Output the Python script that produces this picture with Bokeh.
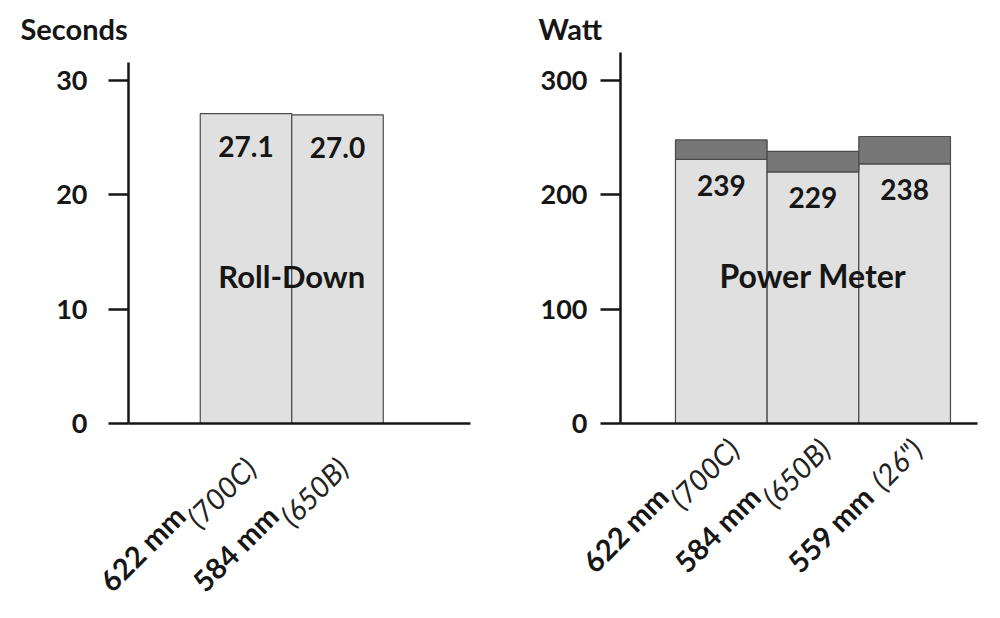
import math
from bokeh.plotting import figure
from bokeh.models import Label, FixedTicker, Range1d, LinearAxis
from bokeh.layouts import row
from bokeh.embed import file_html
from bokeh.resources import INLINE
from bokeh.core.properties import value

# ---------------- data ----------------
roll_sizes = ["622 mm", "584 mm"]
roll_names = ["(700C)", "(650B)"]
roll_seconds = [27.1, 27.0]
roll_labels = ["27.1", "27.0"]

power_sizes = ["622 mm", "584 mm", "559 mm"]
power_names = ["(700C)", "(650B)", '(26")']
power_low = [231, 220, 227]
power_high = [248, 238, 251]
power_labels = ["239", "229", "238"]

seconds_ticks = [0, 10, 20, 30]
watt_ticks = [0, 100, 200, 300]

# ---------------- style ----------------
FONT = "Lato"
INK = "#161616"
LIGHT = "#e0e0e0"
DARK = "#777777"
EDGE = "#4a4a4a"
PANEL_W = 500
FIG_H = 616
FRAME_TOP = 52
ZERO_PX = 423
XL_FS = 29           # category label font size
C45 = math.cos(math.pi / 4)

IT_W = {"(": 0.29, ")": 0.29, "C": 0.66, "B": 0.62, '"': 0.15}


def italic_width(s, size):
    return sum(IT_W.get(c, 0.57) for c in s) * size


def make_chart(origin, frame_left, frame_right, axis_top_px,
               bar1_px, kx, ky, ticks, standoff, title, title_px, title_standoff,
               sizes, names, lab_dx, lab_dy, bold_standoff):
    fw = frame_right - frame_left
    fh = ZERO_PX - FRAME_TOP
    bl = frame_left - origin
    br = origin + PANEL_W - frame_right
    bb = FIG_H - ZERO_PX
    x0 = 1 + (frame_left - bar1_px) / kx
    x1 = 1 + (frame_right - bar1_px) / kx
    y1 = fh / ky
    p = figure(width=PANEL_W, height=FIG_H, frame_width=fw, frame_height=fh,
               min_border_left=bl, min_border_right=br,
               min_border_top=FRAME_TOP, min_border_bottom=bb,
               x_range=Range1d(x0, x1), y_range=Range1d(0, y1),
               x_axis_location=None,
               output_backend="svg", toolbar_location=None)
    p.outline_line_color = None
    p.background_fill_color = "white"
    p.border_fill_color = "white"
    p.xgrid.visible = False
    p.ygrid.visible = False

    ya = p.yaxis[0]
    ya.ticker = FixedTicker(ticks=ticks)
    ya.bounds = (0, (ZERO_PX - axis_top_px) / ky)
    ya.minor_tick_line_color = None
    ya.major_tick_out = 20
    ya.major_tick_in = 0
    ya.major_tick_line_width = 2.5
    ya.major_tick_line_color = INK
    ya.axis_line_width = 2.5
    ya.axis_line_color = INK
    ya.major_label_text_font = FONT
    ya.major_label_text_font_style = "bold"
    ya.major_label_text_font_size = "27px"
    ya.major_label_text_color = INK
    ya.major_label_standoff = standoff

    # category labels: light italic name (next to the axis) + bold size (further out)
    p.extra_x_ranges = {"px": Range1d(frame_left, frame_right)}
    centers = [bar1_px + i * kx for i in range(len(sizes))]
    it_ticks = [int(round(cx + lab_dx)) for cx in centers]
    b_ticks = [int(round(cx + lab_dx - (italic_width(n, XL_FS) + 0.24 * XL_FS + 8) * C45))
               for cx, n in zip(centers, names)]

    xa = LinearAxis(x_range_name="px", ticker=FixedTicker(ticks=it_ticks),
                    major_label_overrides=dict(zip(it_ticks, names)),
                    major_label_orientation=math.pi / 4)
    xa.minor_tick_line_color = None
    xa.major_tick_line_color = None
    xa.major_tick_out = 0
    xa.major_tick_in = 0
    xa.major_label_standoff = lab_dy
    xa.major_label_text_font = FONT
    xa.major_label_text_font_style = "italic"
    xa.major_label_text_font_size = f"{XL_FS}px"
    xa.major_label_text_color = "#222222"
    xa.axis_line_width = 2.5
    xa.axis_line_color = INK
    p.add_layout(xa, "below")

    xb = LinearAxis(x_range_name="px", ticker=FixedTicker(ticks=b_ticks),
                    major_label_overrides=dict(zip(b_ticks, sizes)),
                    major_label_orientation=math.pi / 4)
    xb.minor_tick_line_color = None
    xb.major_tick_line_color = None
    xb.major_tick_out = 0
    xb.major_tick_in = 0
    xb.major_label_standoff = bold_standoff
    xb.major_label_text_font = FONT
    xb.major_label_text_font_style = "bold"
    xb.major_label_text_font_size = f"{XL_FS}px"
    xb.major_label_text_color = INK
    xb.axis_line_color = None
    p.add_layout(xb, "below")

    p.title.text = title
    p.title.align = "left"
    p.title.offset = title_px - frame_left
    p.title.standoff = title_standoff
    p.title.text_font = FONT
    p.title.text_font_style = "bold"
    p.title.text_font_size = "29px"
    p.title.text_color = INK
    return p


# ---------------- left panel: roll-down ----------------
L_KX, L_KY, L_BAR1 = 91.5, 11.433, 245.5
left = make_chart(0, 128, 470, 62, L_BAR1, L_KX, L_KY,
                  seconds_ticks, 21, "Seconds", 20, 14,
                  roll_sizes, roll_names, 5, 39, -39)
lx = list(range(1, len(roll_seconds) + 1))
left.vbar(x=lx, top=roll_seconds, bottom=0, width=1.0,
          fill_color=LIGHT, line_color=EDGE, line_width=1.2)
left.text(x=lx, y=[v - 33 / L_KY for v in roll_seconds], text=roll_labels,
          text_font=value(FONT), text_font_style="bold", text_font_size="28px",
          text_align="center", text_baseline="middle", text_color=INK)
left.add_layout(Label(x=1.5, y=(ZERO_PX - 275) / L_KY, text="Roll-Down",
                      text_font=FONT, text_font_style="bold", text_font_size="31px",
                      text_align="center", text_baseline="middle", text_color=INK))

# ---------------- right panel: power meter ----------------
R_KX, R_KY, R_BAR1 = 91.67, 343 / 300, 720.8
right = make_chart(500, 620, 977, 52, R_BAR1, R_KX, R_KY,
                   watt_ticks, 13, "Watt", 538, 14,
                   power_sizes, power_names, 12, 20, -39)
rx = list(range(1, len(power_low) + 1))
right.vbar(x=rx, top=power_low, bottom=0, width=1.0,
           fill_color=LIGHT, line_color=EDGE, line_width=1.2)
right.vbar(x=rx, top=power_high, bottom=power_low, width=1.0,
           fill_color=DARK, line_color=EDGE, line_width=1.2)
right.text(x=rx, y=[v - 26 / R_KY for v in power_low], text=power_labels,
           text_font=value(FONT), text_font_style="bold", text_font_size="28px",
           text_align="center", text_baseline="middle", text_color=INK)
right.add_layout(Label(x=2, y=(ZERO_PX - 275) / R_KY, text="Power Meter",
                       text_font=FONT, text_font_style="bold", text_font_size="32px",
                       text_align="center", text_baseline="middle", text_color=INK))

layout = row(left, right)
open("out.html", "w").write(file_html(layout, INLINE))
